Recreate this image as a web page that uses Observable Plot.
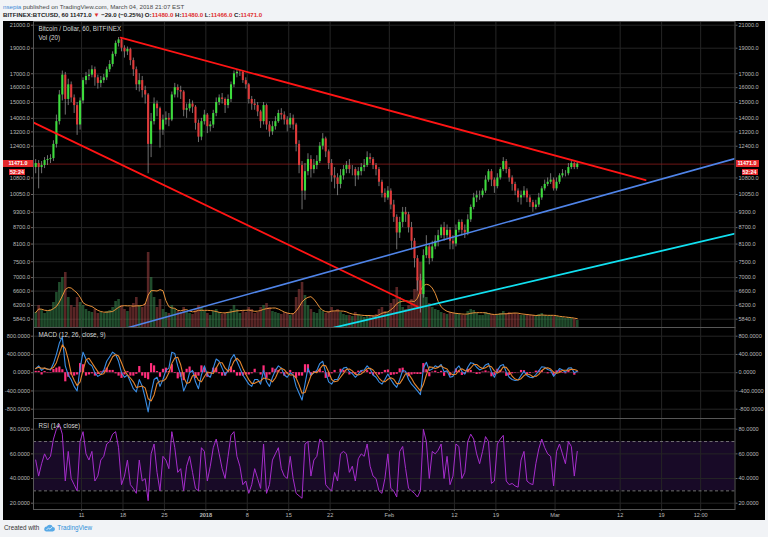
<!DOCTYPE html>
<html><head><meta charset="utf-8">
<script src="https://cdn.jsdelivr.net/npm/d3@7"></script>
<script src="https://cdn.jsdelivr.net/npm/@observablehq/plot@0.6"></script>
<style>
html,body{margin:0;padding:0}
body{background:#f1f3f6;width:768px;height:537px;overflow:hidden;position:relative;font-family:"Liberation Sans",Arial,sans-serif}
#l1{position:absolute;left:3px;top:2.5px;font-size:6.2px;line-height:7px;color:#4a4a4a;white-space:nowrap}
#l1 .u{color:#3d8ad6}
#l2{position:absolute;left:3px;top:11px;font-size:6.1px;line-height:7px;color:#222;font-weight:bold;white-space:nowrap}
#l2 .r{color:#e0302f}
#chart{position:absolute;left:3px;top:21px;width:762px;height:499px;background:#000;overflow:hidden}
.tag{position:absolute;background:#e3272b;color:#fff;font-size:5.4px;line-height:6.6px;height:6.6px;text-align:center;font-weight:bold}
#ftr{position:absolute;left:4px;top:524px;font-size:6.3px;line-height:8px;color:#333;white-space:nowrap;display:flex;align-items:center}
#ftr .tv{color:#2f8fd8;margin-left:2px}
#ftr svg{margin-left:4px}
</style></head>
<body>
<div id="l1"><span class="u">nsepia</span> published on TradingView.com, March 04, 2018 21:07 EST</div>
<div id="l2">BITFINEX:BTCUSD, 60 11471.0 <span class="r">▼</span> −29.0 (−0.25%) O:<span class="r">11480.0</span> H:<span class="r">11480.0</span> L:<span class="r">11466.0</span> C:<span class="r">11471.0</span></div>
<div id="chart"></div>
<div id="ftr">Created with<svg width="12" height="8" viewBox="0 0 12 8"><path d="M3 7.5h6.5a2.3 2.3 0 0 0 .3-4.6A3.2 3.2 0 0 0 3.8 2.6 2.5 2.5 0 0 0 3 7.5z" fill="#58a9e6"/><path d="M3.5 6l2-2 1.5 1.2 2.2-2.4" stroke="#fff" stroke-width="0.7" fill="none"/></svg><span class="tv">TradingView</span></div>
<script>
// ---- data: 12-hour candles starting Dec 3, 2017 00:00 (x in days since then) ----
const firstOpen = 11300;
const closes = [
11500,11300,11400,11650,11700,11750,12500,13800,15500,16900,
15200,16200,15300,14800,13600,15100,16500,16800,16900,17300,
16700,16300,16500,16700,17300,17700,18500,19400,19700,19000,
18700,18900,18000,17300,16200,16500,15800,15500,12500,13800,
14900,14600,13300,13900,14000,13900,15500,16000,15800,15700,
14500,14600,14900,14700,13700,12900,13800,14200,13500,13600,
14300,15000,15300,15200,14800,15200,16200,17000,17100,17100,
16500,16200,15200,14900,14800,14400,13800,14800,13600,13200,
13500,13800,14300,14200,13900,13600,14000,13600,12500,11400,
10200,11100,11700,11200,11400,11600,12400,12800,12100,11500,
10900,10800,10500,10900,11200,11400,11200,11200,10900,11100,
11300,11400,11800,11700,11400,11200,10600,10100,9900,10200,
9600,9100,8500,8900,9300,9200,8700,8200,7600,6900,
6500,7700,8000,7600,8000,8200,8400,8700,8400,8600,
8200,8100,8600,8900,8600,8500,9000,9500,9900,10000,
10000,10200,10700,11100,10700,10400,10800,11200,11600,11200,
10800,10500,10200,9900,10000,10200,9900,9700,9500,9600,
9900,10300,10500,10600,10700,10300,10600,10900,11000,11000,
11300,11500,11300,11471];
const highs = [
11700,11650,11600,11800,11900,11950,12700,14200,15800,17200,
17100,16600,16400,15500,15000,15300,16700,17100,17300,17600,
17500,16900,16800,16950,17500,18000,18700,19600,19900,19800,
19200,19100,19000,18200,17500,17000,16800,16100,15600,14300,
15300,15100,14700,14200,14400,14300,15700,16300,16200,16100,
15800,14900,15200,15100,14800,13900,14000,14500,14300,13800,
14500,15300,15500,15600,15300,15500,16400,17200,17300,17250,
17200,16700,16300,15400,15200,15000,14500,15000,14900,13800,
13800,14100,14500,14600,14400,14100,14300,14200,13700,12700,
11600,11500,12000,11900,11700,11900,12600,13100,12900,12200,
11700,11300,11000,11200,11400,11600,11700,11400,11300,11300,
11500,11700,12100,12000,11800,11500,11300,10700,10300,10400,
10300,9800,9200,9100,9500,9500,9300,8900,8300,7700,
7100,7900,8400,8100,8200,8400,8600,8800,8900,8800,
8700,8400,8800,9000,9000,8800,9200,9600,10100,10200,
10200,10300,10900,11200,11200,10800,11000,11300,11800,11700,
11300,10900,10600,10300,10200,10400,10300,10000,9800,9800,
10100,10400,10700,10800,11000,10800,10800,11000,11200,11150,
11500,11600,11550,11600];
const lows = [
11000,10300,11000,11250,11400,11500,11600,12300,13600,15100,
14200,14800,15000,14300,13000,13300,14900,16200,16500,16700,
16100,15900,16000,16300,16500,17100,17500,18300,19100,18700,
18200,18400,17600,16800,15800,15700,15300,14900,11000,11800,
13600,14100,12300,13000,13600,13500,13800,15300,15300,15200,
14100,14000,14400,14300,13300,12600,12700,13600,13100,13200,
13400,14100,14800,14900,14300,14600,15000,16000,16700,16800,
16300,15900,14900,14500,14500,14100,13400,13600,13300,12900,
13000,13300,13700,13900,13600,13200,13400,13300,12100,11000,
9400,9800,10900,10800,11000,11200,11500,12200,11800,11200,
10600,10300,10000,10300,10700,11000,11000,10900,10400,10700,
10900,11100,11300,11500,11200,10900,10400,9900,9700,9800,
9400,8900,7900,8300,8700,8900,8500,7900,7300,6600,
6000,6400,7600,7400,7500,7900,8000,8300,8200,8300,
7900,7900,8000,8500,8400,8300,8400,8900,9400,9700,
9800,9900,10100,10600,10400,10100,10300,10700,11100,11000,
10600,10200,10000,9700,9600,9900,9700,9500,9300,9400,
9500,9800,10200,10400,10500,10200,10200,10500,10800,10850,
10900,11200,11200,11200];
const volumes = [
15,22,18,14,16,18,25,35,45,50,
55,30,22,20,30,25,22,18,16,15,
18,14,15,14,16,17,20,26,28,22,
18,16,20,24,30,22,20,24,75,50,
30,20,28,18,15,14,22,18,16,15,
20,16,14,13,18,22,20,16,14,12,
16,18,15,13,14,15,18,22,18,14,
16,15,20,18,14,15,20,22,24,20,
16,15,14,13,15,14,12,14,30,38,
45,32,22,18,15,14,18,16,14,16,
20,16,18,15,13,12,12,11,15,13,
11,10,12,11,12,13,18,20,16,15,
24,28,40,30,20,18,22,28,38,50,
65,48,30,24,20,18,17,15,14,13,
15,14,14,13,12,12,16,18,17,14,
12,12,15,14,13,12,13,14,16,14,
15,14,14,13,12,12,13,12,12,11,
13,14,12,11,12,11,11,10,10,9,
10,9,8,7];
const macdVals = [
90,150,50,100,80,60,200,400,650,780,
150,-50,-150,-300,-400,100,450,300,200,150,
0,-80,-40,50,250,350,450,400,250,0,
-100,-50,-200,-350,-420,-150,-300,-550,-860,-450,
-150,-100,-300,-150,50,100,450,420,150,-50,
-400,-250,0,50,-200,-350,-50,150,-50,-100,
100,300,250,100,-50,50,300,400,250,100,
-50,-150,-250,-300,-150,-150,-250,50,-200,-300,
-100,50,150,100,-50,-100,0,-50,-300,-450,
-600,-250,100,-50,0,50,200,250,0,-200,
-250,-150,-150,0,100,120,20,-20,-100,-30,
50,60,150,80,-50,-100,-200,-250,-150,-30,
-150,-250,-320,-150,50,30,-150,-250,-320,-400,
-480,100,230,50,80,150,120,180,20,40,
-100,-80,80,150,30,-30,120,220,200,120,
60,90,170,200,20,-100,50,150,180,20,
-100,-150,-170,-160,-60,30,-60,-100,-110,-40,
40,130,120,70,50,-80,0,90,60,10,
100,110,0,30];
const histVals = [
30,30,-50,25,-10,-10,70,100,125,65,
-200,-100,-50,-75,-50,200,175,-75,-50,-25,
-75,-40,20,45,100,50,50,-25,-75,-125,
-50,25,-75,-75,-35,135,-75,-125,-155,200,
150,25,-100,75,100,25,175,-15,-135,-100,
-175,75,125,25,-125,-75,150,100,-100,-25,
100,100,-25,-75,-75,50,125,50,-75,-75,
-75,-50,-50,-25,75,0,-50,150,-125,-50,
100,75,50,-25,-75,-25,50,-25,-125,-75,
-75,175,175,-75,25,25,75,25,-125,-100,
-25,50,0,75,50,10,-50,-20,-40,35,
40,5,45,-35,-65,-25,-50,-25,50,60,
-60,-50,-35,85,100,-10,-90,-50,-35,-40,
-40,200,65,-90,15,35,-15,30,-80,10,
-70,10,80,35,-60,-30,75,50,-10,-40,
-30,15,40,15,-90,-60,75,50,15,-80,
-60,-25,-10,5,50,45,-45,-20,-5,35,
40,45,-5,-25,-10,-65,40,45,-15,-25,
45,5,-55,15];
const rsiVals = [
55,42,52,60,55,58,72,80,84,76,
38,62,40,35,30,70,78,60,55,62,
38,42,55,58,68,70,76,78,65,35,
42,55,35,32,28,55,38,40,22,60,
68,45,30,58,55,48,78,65,45,48,
30,50,58,45,32,30,65,62,38,50,
65,72,60,48,40,58,75,78,58,50,
35,38,28,35,48,40,32,68,28,35,
55,60,65,48,42,40,58,40,28,26,
24,68,70,42,55,58,72,70,35,32,
30,45,38,60,62,60,45,50,38,56,
60,58,68,50,42,40,30,28,40,60,
32,30,25,62,66,48,32,30,28,25,
30,80,70,40,62,60,63,68,40,58,
35,42,68,66,40,45,70,76,72,60,
52,62,74,70,36,38,68,72,75,38,
35,36,34,33,55,62,38,36,35,52,
64,72,65,60,58,34,62,68,60,52,
70,66,42,62];

// drawing-tool trend lines: [day, price]
const upperRed = [[14.6, 19900], [103.3, 10700]];
const lowerRed = [[-0.1, 13745], [64.8, 6164]];
const blueLine = [[14.6, 5578], [118.4, 11750]];
const cyanLine = [[49.1, 5578], [118.4, 8474]];

const priceTicks = [21000,19000,17000,16000,15000,14000,13200,12400,10800,10050,9300,8700,8100,7500,7000,6600,6200,5840];
const macdTicks = [800,400,0,-400,-800];
const rsiTicks = [80,60,40,20];
const rsiBand = [30, 70];
const xTickDays = [8,15,22,29,36,43,50,60,71,78,88,99,106,112.6];
const xTickLabels = ["11","18","25","2018","8","15","22","Feb","12","19","Mar","12","19","12:00"];
const lastClose = closes[closes.length - 1];
const countdown = "52:24";

// ---- build rows ----
const rows = closes.map((c, i) => {
  const o = i === 0 ? firstOpen : closes[i - 1];
  return {t: i * 0.5 + 0.25, o, h: highs[i], l: lows[i], c, up: c >= o,
          v: volumes[i], macd: macdVals[i], hist: histVals[i], rsi: rsiVals[i]};
});
const labelMap = new Map(xTickDays.map((d, i) => [d, xTickLabels[i]]));

const xDomain = [-0.12, 118.4];
const base = {
  width: 762, marginLeft: 30, marginRight: 30.5,
  x: {domain: xDomain, axis: null, label: null},
  style: {background: "transparent", color: "#b9b9b9", fontSize: "5.6px",
          fontFamily: "'Liberation Sans', Arial, sans-serif", overflow: "visible"}
};
const GRID = "#252525", FRAME = "#575757";
const axisOpts = {tickSize: 2, tickPadding: 1.5, stroke: "#666", label: null};
const priceY = {type: "log", domain: [5840, 21000], range: [297.7, 3.7], axis: null, label: null};

const chart = document.getElementById("chart");
function place(svg, top) {
  svg.style.position = "absolute"; svg.style.left = "0px"; svg.style.top = top + "px";
  chart.appendChild(svg); return svg;
}

// layer 1: grid for price pane
place(Plot.plot({...base, height: 306, marginTop: 0, marginBottom: 0, y: priceY,
  marks: [
    Plot.gridX(xTickDays, {stroke: GRID, strokeOpacity: 1}),
    Plot.gridY(priceTicks, {stroke: GRID, strokeOpacity: 1})
  ]}), 0);

// layer 2: volume with moving average
place(Plot.plot({...base, height: 306, marginTop: 0, marginBottom: 0,
  y: {domain: [0, 100], range: [306, 206], axis: null, label: null},
  marks: [
    Plot.ruleX(rows, {x: "t", y1: 0, y2: "v", stroke: d => d.up ? "#3b8a50" : "#a04444", strokeWidth: 2.6, strokeOpacity: 0.55}),
    Plot.lineY(rows, Plot.windowY({k: 6, anchor: "end"}, {x: "t", y: "v", stroke: "#e8923a", strokeWidth: 1}))
  ]}), 0);

// layer 3: price
const pricePlot = place(Plot.plot({...base, height: 306, marginTop: 0, marginBottom: 0, y: priceY,
  marks: [
    Plot.ruleY([lastClose], {stroke: "#8a1c1c", strokeWidth: 0.8}),
    Plot.ruleX(rows, {x: "t", y1: "l", y2: "h", stroke: "#a0a0a0", strokeWidth: 0.7}),
    Plot.ruleX(rows, {x: "t", y1: "o", y2: "c", stroke: d => d.up ? "#3ddc3d" : "#e03a3a", strokeWidth: 2.1}),
    Plot.line(lowerRed, {x: d => d[0], y: d => d[1], stroke: "#ff1414", strokeWidth: 1.8, clip: true}),
    Plot.line(upperRed, {x: d => d[0], y: d => d[1], stroke: "#ff1414", strokeWidth: 1.8, clip: true}),
    Plot.line(blueLine, {x: d => d[0], y: d => d[1], stroke: "#4f84e8", strokeWidth: 1.6, clip: true}),
    Plot.line(cyanLine, {x: d => d[0], y: d => d[1], stroke: "#11e0f0", strokeWidth: 1.8, clip: true}),
    Plot.axisY(priceTicks, {anchor: "left", tickFormat: d => d.toFixed(1), ...axisOpts}),
    Plot.axisY(priceTicks, {anchor: "right", tickFormat: d => d.toFixed(1), ...axisOpts}),
    Plot.text(["Bitcoin / Dollar, 60, BITFINEX"], {frameAnchor: "top-left", dx: 5, dy: 5.5, fill: "#d6d6d6", fontSize: 6.3}),
    Plot.text(["Vol (20)"], {frameAnchor: "top-left", dx: 5, dy: 14.5, fill: "#d6d6d6", fontSize: 6.3}),
    Plot.frame({stroke: FRAME})
  ]}), 0);

// MACD pane
place(Plot.plot({...base, height: 91, marginTop: 0, marginBottom: 0,
  y: {domain: [-800, 800], range: [81.7, 8.7], axis: null, label: null},
  marks: [
    Plot.gridX(xTickDays, {stroke: GRID, strokeOpacity: 1}),
    Plot.gridY(macdTicks, {stroke: GRID, strokeOpacity: 1}),
    Plot.ruleX(rows, {x: "t", y1: 0, y2: "hist", stroke: "#ff2d7a", strokeWidth: 2.2}),
    Plot.lineY(rows, {x: "t", y: "macd", stroke: "#3a8ee6", strokeWidth: 1.1}),
    Plot.lineY(rows, Plot.windowY({k: 3, anchor: "end"}, {x: "t", y: "macd", stroke: "#e5862e", strokeWidth: 1.1})),
    Plot.axisY(macdTicks, {anchor: "left", tickFormat: d => d.toFixed(4), ...axisOpts}),
    Plot.axisY(macdTicks, {anchor: "right", tickFormat: d => d.toFixed(4), ...axisOpts}),
    Plot.text(["MACD (12, 26, close, 9)"], {frameAnchor: "top-left", dx: 5, dy: 5.5, fill: "#d6d6d6", fontSize: 6.3}),
    Plot.frame({stroke: FRAME})
  ]}), 306);

// RSI pane + time axis
const rsiPlot = place(Plot.plot({...base, height: 102, marginTop: 0, marginBottom: 11,
  y: {domain: [20, 80], range: [84.7, 10.7], axis: null, label: null},
  marks: [
    Plot.rect([rsiBand], {x1: xDomain[0], x2: xDomain[1], y1: d => d[0], y2: d => d[1], fill: "#180a27"}),
    Plot.gridX(xTickDays, {stroke: GRID, strokeOpacity: 1}),
    Plot.gridY(rsiTicks, {stroke: GRID, strokeOpacity: 1}),
    Plot.ruleY(rsiBand, {stroke: "#7c7c7c", strokeDasharray: "3,2.5", strokeWidth: 0.9}),
    Plot.lineY(rows, {x: "t", y: "rsi", stroke: "#a62dcc", strokeWidth: 1}),
    Plot.axisY(rsiTicks, {anchor: "left", tickFormat: d => d.toFixed(4), ...axisOpts}),
    Plot.axisY(rsiTicks, {anchor: "right", tickFormat: d => d.toFixed(4), ...axisOpts}),
    Plot.axisX(xTickDays, {anchor: "bottom", tickFormat: d => labelMap.get(d), ...axisOpts}),
    Plot.text(["RSI (14, close)"], {frameAnchor: "top-left", dx: 5, dy: 5, fill: "#d6d6d6", fontSize: 6.3}),
    Plot.frame({stroke: FRAME})
  ]}), 397);
d3.select(rsiPlot).selectAll("text").filter(function() { return this.textContent === "2018"; }).attr("font-weight", "bold");

// last-price tags on both price axes
const yLast = pricePlot.scale("y").apply(lastClose);
function tag(text, left, width, top) {
  const d = document.createElement("div");
  d.className = "tag"; d.textContent = text;
  d.style.left = left + "px"; d.style.width = width + "px"; d.style.top = top + "px";
  chart.appendChild(d);
}
tag(lastClose.toFixed(1), 0, 30, yLast - 3.3);
tag(countdown, 6, 16, yLast + 5);
tag(lastClose.toFixed(1), 732.5, 23, yLast - 3.3);
tag(countdown, 738.5, 16, yLast + 5);
</script>
</body></html>
